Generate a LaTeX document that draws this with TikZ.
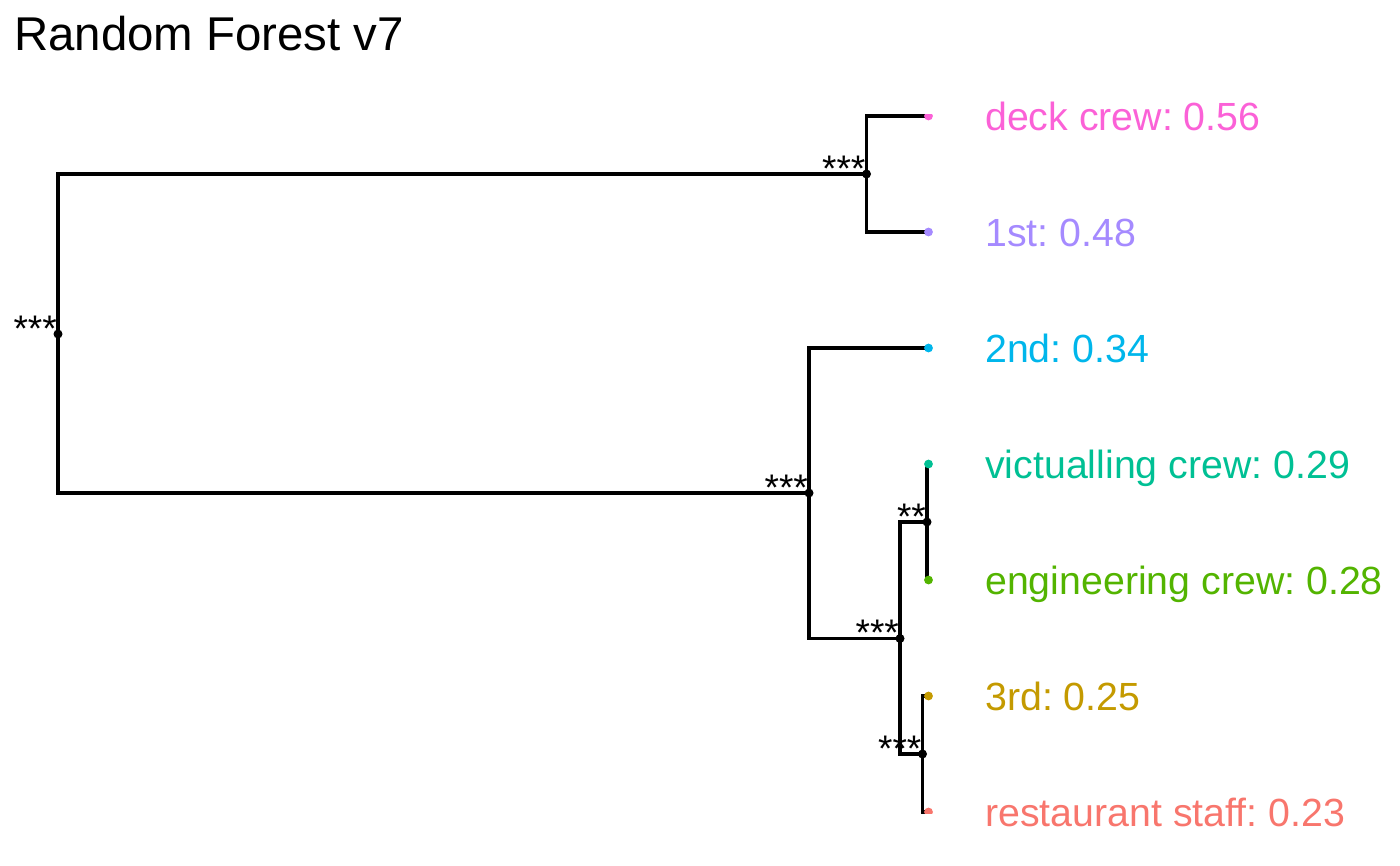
\documentclass[tikz,border=0pt]{standalone}
\usepackage{fontspec}
\setmainfont{Liberation Sans}
\usepackage{tikz}
\usepackage{xcolor}
\frenchspacing

\definecolor{deckcol}{HTML}{FB61D7}
\definecolor{firstcol}{HTML}{A58AFF}
\definecolor{secondcol}{HTML}{00B6EB}
\definecolor{victcol}{HTML}{00C094}
\definecolor{engcol}{HTML}{53B400}
\definecolor{thirdcol}{HTML}{C49A00}
\definecolor{restcol}{HTML}{F8766D}

\tikzset{
  branch/.style={line width=3.2pt},
  tiplabel/.style={anchor=base west, inner sep=0pt, text=#1, font=\fontsize{39.3}{47}\selectfont},
  stars/.style={anchor=base east, inner sep=0pt, font=\fontsize{37}{44}\selectfont},
  split/.style={circle, fill=black, inner sep=0pt, minimum size=9pt}
}

\begin{document}
\begin{tikzpicture}[x=1pt, y=-1pt]
        \useasboundingbox (0,0) rectangle (1400,865);
        % Title
        \node[anchor=base west, inner sep=0pt, font=\fontsize{47.4}{56}\selectfont] (title) at (14,50) {Random Forest v7};
        % Tips
        \coordinate (deck) at (928.5,116);
        \coordinate (first) at (928.5,232);
        \coordinate (second) at (928.5,348);
        \coordinate (vict) at (928.5,464);
        \coordinate (eng) at (928.5,580);
        \coordinate (third) at (928.5,696);
        \coordinate (rest) at (928.5,812);
        % Splits
        \coordinate (root) at (58,334);
        \coordinate (top) at (866.5,174);
        \coordinate (bot) at (809,493);
        \coordinate (mid) at (900,638.5);
        \coordinate (crew) at (927,522);
        \coordinate (low) at (922.5,754);
        % Branches
        \draw[branch] (top) -| (root) |- (bot);
        \draw[branch] (deck) -| (top) |- (first);
        \draw[branch] (second) -| (bot) |- (mid);
        \draw[branch] (crew) -| (mid) |- (low);
        \draw[branch] (vict -| crew) -- (crew) -- (eng -| crew);
        \draw[branch] (third) -| (low) |- (rest);
        % Split points and stars
        \foreach \s/\t in {root/***, top/***, bot/***, mid/***, crew/**, low/***}{
          \node[split] (\s dot) at (\s) {};
          \node[stars] (\s stars) at ([xshift=-1pt, yshift=-7pt]\s) {\t};
        }
        % Tip points
        \begin{scope}
          \clip (0,114.5) rectangle (1400,813.5);
          \fill[deckcol] (deck) circle (4.4pt);
          \fill[restcol] (rest) circle (4.4pt);
        \end{scope}
        \fill[firstcol] (first) circle (4.4pt);
        \fill[secondcol] (second) circle (4.4pt);
        \fill[victcol] (vict) circle (4.4pt);
        \fill[engcol] (eng) circle (4.4pt);
        \fill[thirdcol] (third) circle (4.4pt);
        % Labels
        \node[tiplabel=deckcol] (deck label) at (985,130.5) {deck crew: 0.56};
        \node[tiplabel=firstcol] (first label) at (985,246.5) {1st: 0.48};
        \node[tiplabel=secondcol] (second label) at (985,362.5) {2nd: 0.34};
        \node[tiplabel=victcol] (vict label) at (985,478.5) {victualling crew: 0.29};
        \node[tiplabel=engcol] (eng label) at (985,594.5) {engineering crew: 0.28};
        \node[tiplabel=thirdcol] (third label) at (985,710.5) {3rd: 0.25};
        \node[tiplabel=restcol] (rest label) at (985,826.5) {restaurant staff: 0.23};
\end{tikzpicture}
\end{document}
